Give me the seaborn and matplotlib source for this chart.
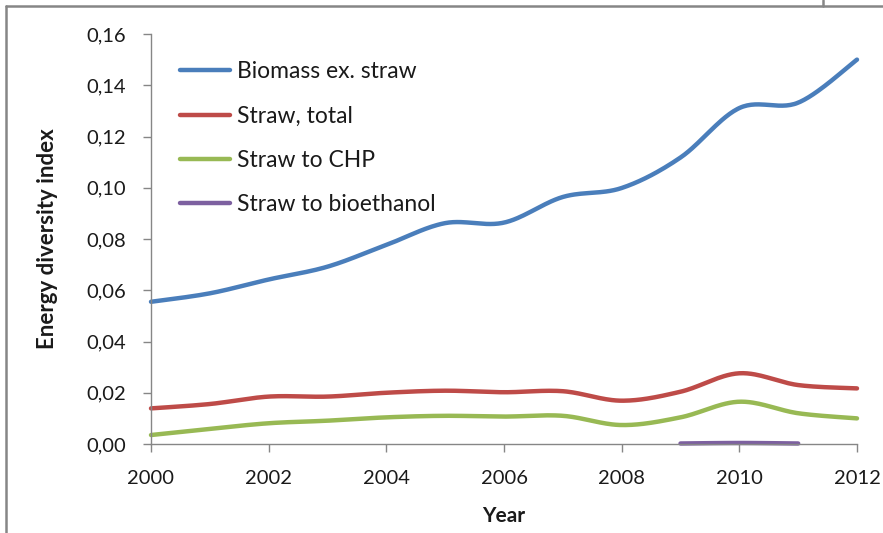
import numpy as np
import pandas as pd
import matplotlib
matplotlib.use("Agg")
import matplotlib.pyplot as plt
from matplotlib.lines import Line2D
import seaborn as sns

# Energy diversity index by source, 2000-2012
years = [2000, 2001, 2002, 2003, 2004, 2005, 2006, 2007, 2008, 2009, 2010, 2011, 2012]
biomass_ex_straw = [0.0555, 0.0588, 0.0642, 0.0692, 0.0777, 0.0862, 0.0864, 0.0964,
                    0.0999, 0.1118, 0.1311, 0.1332, 0.1500]
straw_total = [0.0139, 0.0156, 0.0185, 0.0185, 0.0200, 0.0208, 0.0202, 0.0206,
               0.0169, 0.0204, 0.0276, 0.0230, 0.0217]
straw_to_chp = [0.0035, 0.0059, 0.0081, 0.0091, 0.0104, 0.0110, 0.0107, 0.0110,
                0.0074, 0.0104, 0.0165, 0.0120, 0.0100]
bioethanol_years = [2009, 2010, 2011]
straw_to_bioethanol = [0.0002, 0.0004, 0.0002]

series_names = ["Biomass ex. straw", "Straw, total", "Straw to CHP", "Straw to bioethanol"]
series_colors = ["#4A7EBB", "#BE4B48", "#98B954", "#7D60A0"]
y_ticks = [0.00, 0.02, 0.04, 0.06, 0.08, 0.10, 0.12, 0.14, 0.16]
x_ticks = [2000, 2002, 2004, 2006, 2008, 2010, 2012]


def smooth(xs, ys, steps=30):
    """Bezier smoothing through every point (Catmull-Rom style tangents)."""
    xs = np.asarray(xs, float)
    ys = np.asarray(ys, float)
    n = len(xs)
    out_x, out_y = [xs[0]], [ys[0]]
    t = np.linspace(0, 1, steps + 1)[1:]
    for i in range(n - 1):
        p0 = np.array([xs[max(i - 1, 0)], ys[max(i - 1, 0)]])
        p1 = np.array([xs[i], ys[i]])
        p2 = np.array([xs[i + 1], ys[i + 1]])
        p3 = np.array([xs[min(i + 2, n - 1)], ys[min(i + 2, n - 1)]])
        c1 = p1 + (p2 - p0) / 6.0
        c2 = p2 - (p3 - p1) / 6.0
        b = ((1 - t) ** 3)[:, None] * p1 + (3 * (1 - t) ** 2 * t)[:, None] * c1 \
            + (3 * (1 - t) * t ** 2)[:, None] * c2 + (t ** 3)[:, None] * p2
        out_x.extend(b[:, 0])
        out_y.extend(b[:, 1])
    return np.array(out_x), np.array(out_y)


frames = []
for name, xs, ys in [(series_names[0], years, biomass_ex_straw),
                     (series_names[1], years, straw_total),
                     (series_names[2], years, straw_to_chp),
                     (series_names[3], bioethanol_years, straw_to_bioethanol)]:
    sx, sy = smooth(xs, ys)
    frames.append(pd.DataFrame({"Year": sx, "Index": sy, "Series": name}))
df = pd.concat(frames, ignore_index=True)

sns.set_theme(style="white")
plt.rcParams["font.family"] = ["Lato", "DejaVu Sans"]

W, H = 883, 533
fig = plt.figure(figsize=(W / 100, H / 100), dpi=100)
ax = fig.add_axes([151 / W, 1 - 444 / H, (857 - 151) / W, (444 - 34) / H])

sns.lineplot(data=df, x="Year", y="Index", hue="Series", hue_order=series_names,
             palette=series_colors, estimator=None, sort=False, units="Series",
             linewidth=3.2, legend=False, ax=ax)
for ln in ax.lines:
    ln.set_clip_on(False)
    ln.set_solid_capstyle("round")

ax.set_xlim(2000, 2012)
ax.set_ylim(0, 0.16)
ax.set_xticks(x_ticks)
ax.set_xticklabels([str(x) for x in x_ticks])
ax.set_yticks(y_ticks)
ax.set_yticklabels([f"{v:.2f}".replace(".", ",") for v in y_ticks])

grey = "#868686"
text_col = "#1a1a1a"
for side in ["top", "right"]:
    ax.spines[side].set_visible(False)
for side in ["left", "bottom"]:
    ax.spines[side].set_color(grey)
    ax.spines[side].set_linewidth(1.0)
ax.tick_params(axis="both", direction="out", length=6, width=1.0, color=grey,
               labelsize=14.5, labelcolor=text_col, left=True, bottom=True)
ax.tick_params(axis="y", pad=12)
ax.tick_params(axis="x", pad=13)
ax.grid(False)

ax.set_xlabel("Year", fontsize=15, fontweight="bold", color=text_col, labelpad=13.5)
ax.set_ylabel("Energy diversity index", fontsize=16, fontweight="bold",
              color=text_col, labelpad=20)

handles = [Line2D([], [], color=c, linewidth=3.2, solid_capstyle="round")
           for c in series_colors]
ax.legend(handles, series_names, loc="upper left", bbox_to_anchor=(0.028, 0.956),
          frameon=False, fontsize=16.5, handlelength=2.18, handletextpad=0.3,
          labelspacing=1.02, borderaxespad=0, labelcolor=text_col)

# chart-area frame
fig.add_artist(Line2D([6 / W, 6 / W], [0, 1 - 6 / H], color=grey, linewidth=1.8,
                      transform=fig.transFigure))
fig.add_artist(Line2D([6 / W, 1], [1 - 6 / H, 1 - 6 / H], color=grey, linewidth=1.8,
                      transform=fig.transFigure))
fig.add_artist(Line2D([823 / W, 823 / W], [1 - 6 / H, 1], color=grey, linewidth=1.8,
                      transform=fig.transFigure))

fig.savefig("out.png", dpi=100, facecolor="white")
